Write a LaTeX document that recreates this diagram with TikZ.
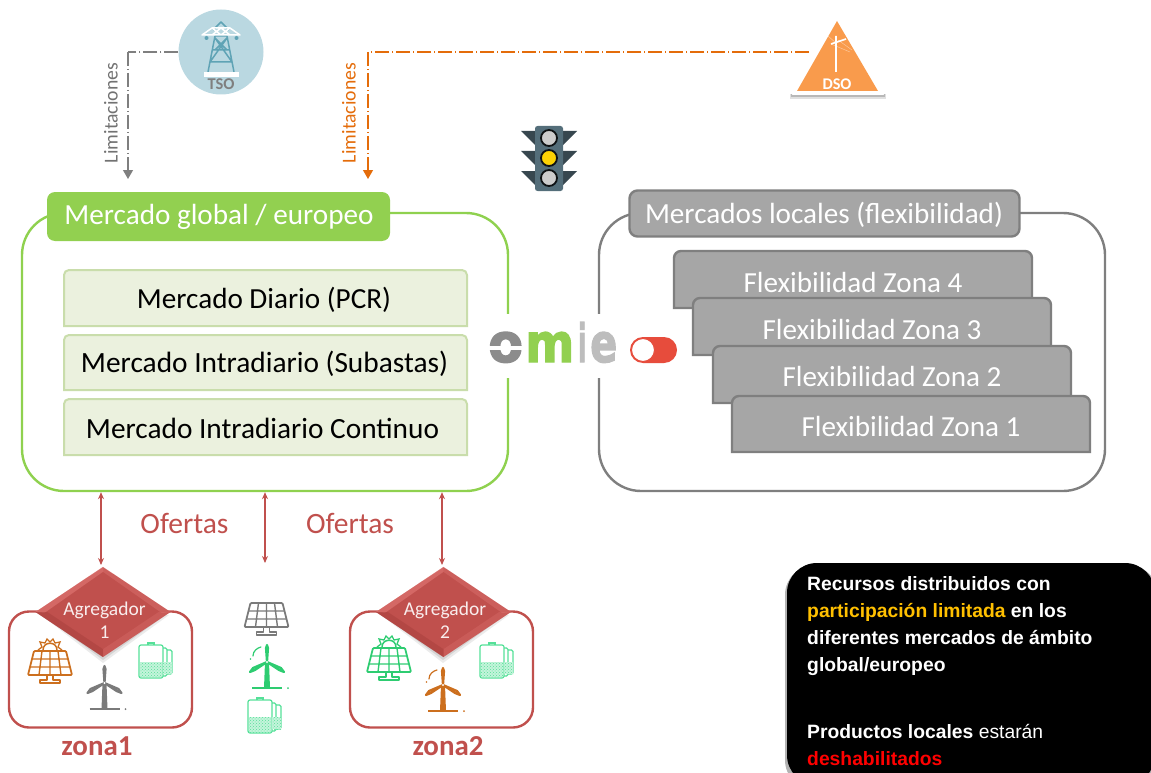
\documentclass[tikz,border=0pt]{standalone}
\usepackage{fontspec}
\usepackage{graphicx}
\setmainfont{Carlito}
\newfontfamily\arialf{Liberation Sans}
\newfontfamily\logof[FakeBold=2.5]{DejaVu Sans Bold}
\usetikzlibrary{shapes.geometric,arrows.meta,patterns}
\definecolor{gmk}{HTML}{92D050}
\definecolor{gln}{HTML}{8FD14F}
\definecolor{gin}{HTML}{EBF1DE}
\definecolor{gib}{HTML}{C9DDAB}
\definecolor{gry}{HTML}{A6A6A6}
\definecolor{gryd}{HTML}{7F7F7F}
\definecolor{redm}{HTML}{C0504D}
\definecolor{org}{HTML}{E46C0A}
\definecolor{icgr}{HTML}{2ECC71}
\definecolor{icbat}{HTML}{55E098}
\definecolor{icor}{HTML}{CC6F1E}
\definecolor{icgy}{HTML}{7A7A7A}
\definecolor{ambar}{HTML}{FFC000}
\newcommand{\fw}[2]{\resizebox{#1pt}{!}{#2}}
\tikzset{
 x=1pt,y=-1pt,
 bigbox/.style={draw,line width=2.4pt,rounded corners=42pt,fill=white,inner sep=0,minimum width=#1},
 headbox/.style={rounded corners=8pt,inner sep=0},
 inbox/.style={fill=gin,draw=gib,line width=2pt},
 flexbox/.style={fill=gry,draw=gryd,line width=2.4pt},
 lbl/.style={inner sep=0},
 flbl/.style={inner sep=0,text=white},
 lim/.style={line width=1.2pt,dash pattern=on 14pt off 3pt on 1pt off 3pt},
 ofr/.style={redm,line width=1.1pt,{Stealth[length=7pt,width=6pt]}-{Stealth[length=7pt,width=6pt]}},
 zone/.style={draw=redm,line width=2.4pt,rounded corners=20pt,minimum width=183pt,minimum height=116pt,inner sep=0},
 agg/.style={shape=diamond,fill=redm,minimum width=135pt,minimum height=90pt,inner sep=0,aspect=1.5},
 aggt/.style={inner sep=0,text=white!90!redm,align=center,font=\fontsize{19.5pt}{23pt}\selectfont},
 pics/solar/.style={code={
   \draw[line width=1.8pt,line join=round,rounded corners=1pt] (-16,-12) -- (16,-12) -- (22,12) -- (-22,12) -- cycle;
   \draw[line width=1.4pt] (-18,-4) -- (18,-4) (-20,4) -- (20,4)
     (-8,-12) -- (-11,12) (0,-12) -- (0,12) (8,-12) -- (11,12);
   \draw[line width=1.6pt,line join=round] (-3,12) -- (-3,17) -- (-10,17) -- (-10,20) -- (10,20) -- (10,17) -- (3,17) -- (3,12);
 }},
 pics/sun/.style={code={
   \draw[line width=1.5pt] (-7,-13) .. controls (-7,-22) and (7,-22) .. (7,-13);
   \draw[line width=1.3pt,line join=miter] (-12,-13) -- (-8,-16) -- (-10,-21) -- (-5,-20) -- (-3,-24) -- (0,-21) -- (3,-24) -- (5,-20) -- (10,-21) -- (8,-16) -- (12,-13);
 }},
 pics/turbine/.style={code={
   \fill (-2,0) -- (-3,26) -- (3,26) -- (2,0) -- cycle;
   \draw[line width=1.6pt] (-15,26) -- (15,26);
   \fill (21,26) circle (1pt);
   \draw[line width=2.2pt,line cap=round,line join=round] (0,0) -- (-1,-14) -- (0,-17) -- (1,-14) -- cycle;
   \draw[line width=2.2pt,line cap=round,line join=round] (0,0) -- (-12,8) -- (-17,10) -- (-14,6) -- cycle;
   \draw[line width=2.2pt,line cap=round,line join=round] (0,0) -- (12,8) -- (17,10) -- (14,6) -- cycle;
   \fill[white] (0,0) circle (1.2pt);
 }},
 pics/wind/.style={code={
   \draw[line width=1.2pt,line cap=round] (-14,-6) .. controls (-14,-11) and (-10,-14) .. (-6,-15);
   \fill (-16.5,-3) circle (.9pt);
 }},
 pics/battery/.style={code={
   \draw[line width=1.1pt,rounded corners=1.5pt] (24,3) -- (28,3) -- (28,31) -- (24,31);
   \draw[line width=1.1pt,rounded corners=1.5pt] (28,5) -- (33,5) -- (33,29) -- (28,29);
   \draw[line width=1.2pt,rounded corners=2pt] (0,0) rectangle (24,33);
   \draw[line width=1.1pt] (9,0) -- (9,-2) -- (15,-2) -- (15,0);
   \fill[icbat!35] (1,17) rectangle (23,32) (24,17) rectangle (33,29);
   \fill[pattern=crosshatch dots,pattern color=icbat] (1,17) rectangle (23,32);
   \fill[pattern=crosshatch dots,pattern color=icbat] (24,17) rectangle (33,29);
 }},
}
\begin{document}
\begin{tikzpicture}
\useasboundingbox (0,0) rectangle (1151,773);
\clip (0,0) rectangle (1151,773);

% big containers
\node[bigbox=486pt,draw=gln,minimum height=278pt] (glob) at (265,352) {};
\node[bigbox=506pt,draw=gryd,minimum height=278pt] (loc) at (852,352) {};

% TSO
\definecolor{tsoc}{HTML}{BAD8E1}
\definecolor{tsod}{HTML}{5FA3B5}
\node[circle,fill=tsoc,minimum size=85pt,inner sep=0] (tso) at (221,52) {};
\coordinate (tsoTurn) at (128,52);
\coordinate (tsoEnd) at (128,179);
\draw[gryd,lim] (tso.west) -- (tsoTurn);
\draw[gryd,lim,-{Triangle[length=9pt,width=10pt]}] (tsoTurn) -- (tsoEnd);
\draw[tsod,line width=1.5pt,line join=round]
  (208,72) -- (215,36) -- (227,36) -- (234,72)
  (215,38) -- (232,62) (227,38) -- (210,62) (215,38) -- (227,50) (227,38) -- (215,50)
  (213,50) -- (229,50) (210,62) -- (232,62)
  (213,30) -- (221,22) -- (229,30);
\draw[white,line width=1.5pt,line join=round]
  (202,35) -- (240,35) -- (230,28) -- (212,28) -- cycle
  (212,28) -- (221,35) -- (230,28) (221,28) -- (212,35) (221,28) -- (230,35);
\fill[tsod] (206.5,38) circle (2pt) (236.5,38) circle (2pt);
\fill[white] (204,72) rectangle (239,77);
\node[lbl,text=gryd,font=\bfseries] (tsot) at (221,84) {\fw{27}{TSO}};

% DSO
\definecolor{dsoc}{HTML}{F99B4C}
\fill[black,opacity=.12] (790,94) rectangle (886,99.5);
\fill[black,opacity=.18] (791,94) rectangle (885,97.5);
\fill[white,rounded corners=1.5pt] (837,13) -- (885,95) -- (791,95) -- cycle;
\fill[dsoc] (837,21) -- (878,91) -- (797,91) -- cycle;
\draw[white,line width=1.6pt] (836,36) -- (836,72) (831,44) -- (846,39);
\draw[white,opacity=.45,line width=.5pt] (831,44) -- (850,52) (838,40) -- (852,50) (828,36) -- (836,43);
\node[lbl,text=white,font=\bfseries] (dsot) at (837,84) {\fw{29}{DSO}};
\coordinate (dsoStart) at (809,52);
\coordinate (dsoTurn) at (368,52);
\coordinate (dsoEnd) at (368,179);
\draw[org,lim] (dsoStart) -- (dsoTurn);
\draw[org,lim,-{Triangle[length=9pt,width=10pt]}] (dsoTurn) -- (dsoEnd);

\node[lbl,rotate=90,text=gryd!90!black] (lim1) at (111,113) {\fw{100}{Limitaciones}};
\node[lbl,rotate=90,text=org] (lim2) at (349,113) {\fw{100}{Limitaciones}};

% traffic light
\definecolor{tld}{HTML}{37474F}
\definecolor{tlb}{HTML}{546E7A}
\fill[tld] (521,131) -- (536,131) -- (536,146) -- cycle (521,151) -- (536,151) -- (536,166) -- cycle (521,171) -- (536,171) -- (536,186) -- cycle;
\fill[tld] (577,131) -- (562,131) -- (562,146) -- cycle (577,151) -- (562,151) -- (562,166) -- cycle (577,171) -- (562,171) -- (562,186) -- cycle;
\fill[tlb,rounded corners=2.5pt] (535,126) rectangle (563,191);
\node[circle,draw=black!75!tld,line width=1.8pt,fill=black!20,minimum size=16pt,inner sep=0] (tl1) at (549,138) {};
\node[circle,draw=black!75!tld,line width=1.8pt,fill=yellow!70!orange,minimum size=16pt,inner sep=0] (tl2) at (549,158) {};
\node[circle,draw=black!75!tld,line width=1.8pt,fill=black!20,minimum size=16pt,inner sep=0] (tl3) at (549,178) {};

% headers
\node[headbox,fill=gmk,minimum width=343pt,minimum height=49pt] (gh) at (218.5,216.5) {};
\node[flbl] (ght) at (219,217) {\fw{309}{Mercado global / europeo}};
\node[headbox,fill=gry,draw=gryd,line width=2.4pt,minimum width=390pt,minimum height=46pt] (lh) at (824.5,213.5) {};
\node[flbl] (lht) at (824,214.5) {\fw{358}{Mercados locales (flexibilidad)}};

% inner market rows
\draw[inbox] (64,326) [rounded corners=5pt] -- (64,270) -- (467,270) [rounded corners=0pt] -- (467,326) -- cycle;
\draw[inbox] (64,390) [rounded corners=5pt] -- (64,335) -- (467,335) [rounded corners=0pt] -- (467,390) -- cycle;
\draw[inbox] (64,455) [rounded corners=5pt] -- (64,399) -- (467,399) [rounded corners=0pt] -- (467,455) -- cycle;
\node[lbl] (m1) at (264,300) {\fw{254}{Mercado Diario (PCR)}};
\node[lbl] (m2) at (264.5,363.5) {\fw{367}{Mercado Intradiario (Subastas)}};
\node[lbl] (m3) at (262.5,428) {\fw{353}{Mercado Intradiario Continuo}};

% flexibility stack
\draw[flexbox] (674,308) [rounded corners=7pt] -- (674,251) -- (1032,251) [rounded corners=0pt] -- (1032,308) -- cycle;
\node[flbl] (f4) at (853,282) {\fw{219}{Flexibilidad Zona 4}};
\draw[flexbox] (693,355) [rounded corners=7pt] -- (693,298) -- (1051,298) [rounded corners=0pt] -- (1051,355) -- cycle;
\node[flbl] (f3) at (872,329) {\fw{219}{Flexibilidad Zona 3}};
\draw[flexbox] (713,403) [rounded corners=7pt] -- (713,346) -- (1071,346) [rounded corners=0pt] -- (1071,403) -- cycle;
\node[flbl] (f2) at (892,376) {\fw{219}{Flexibilidad Zona 2}};
\draw[flexbox] (732,452) [rounded corners=7pt] -- (732,396) -- (1090,396) [rounded corners=0pt] -- (1090,452) -- cycle;
\node[flbl] (f1) at (911,426) {\fw{219}{Flexibilidad Zona 1}};

% omie logo
\fill[white] (488,314) rectangle (625,378);
\definecolor{omg}{HTML}{8C8C8C}
\definecolor{oml}{HTML}{BDBDBD}
\node[lbl,font=\logof,anchor=base west] (omie) at (488,362) {\resizebox{35pt}{30pt}{\textcolor{omg}{o}}\hspace{2pt}\resizebox{49pt}{30pt}{\textcolor{gmk}{m}}\hspace{4pt}\resizebox{8pt}{40pt}{\textcolor{oml}{i}}\hspace{4pt}\resizebox{27pt}{30pt}{\textcolor{oml}{e}}};
\fill[white] (486,345.5) rectangle (525,349.5);

% toggle
\definecolor{tog}{HTML}{E74C3C}
\node[fill=tog,rounded corners=13pt,minimum width=47pt,minimum height=26pt,inner sep=0] (tg) at (653.5,350) {};
\node[circle,fill=white,draw=tog,line width=1pt,minimum size=23pt,inner sep=0] (tgk) at (643,350) {};

% zones
\node[zone] (z1) at (100.5,669.5) {};
\node[zone] (z2) at (441.5,669.5) {};

% icons
\pic[color=icor] at (50,663) {solar};
\pic[color=icor] at (50,663) {sun};
\pic[color=icgy] at (104.5,683) {turbine};
\pic[color=icbat] at (139,645) {battery};

\pic[color=icgy] at (266.5,615) {solar};
\pic[color=icgr] at (267,662) {turbine};
\pic[color=icgr] at (267,662) {wind};
\pic[color=icbat] at (248,700) {battery};

\pic[color=icgr] at (389,660) {solar};
\pic[color=icgr] at (389,660) {sun};
\pic[color=icor] at (443,685) {turbine};
\pic[color=icor] at (443,685) {wind};
\pic[color=icbat] at (480,645) {battery};

% aggregators
\definecolor{aggl}{HTML}{E57C79}
\definecolor{aggd}{HTML}{A9403D}
\foreach \cx in {103,443}{
  \fill[black,opacity=.08] (\cx-62,615) -- (\cx+66,615) -- (\cx,663) -- cycle;
  \fill[black,opacity=.10] (\cx-64,612) -- (\cx+67,612) -- (\cx,660) -- cycle;
}
\node[agg] (a1) at (103,612) {};
\node[agg] (a2) at (443.5,612) {};
\foreach \n in {a1,a2}{
  \fill[aggl,opacity=.55] (\n.north) -- (\n.west) -- ([xshift=9pt,yshift=-1pt]\n.west) -- ([yshift=-5pt]\n.north) -- cycle;
  \fill[aggl,opacity=.35] (\n.north) -- (\n.east) -- ([xshift=-9pt,yshift=-1pt]\n.east) -- ([yshift=-5pt]\n.north) -- cycle;
  \fill[aggd,opacity=.55] (\n.west) -- (\n.south) -- ([yshift=8pt]\n.south) -- ([xshift=12pt]\n.west) -- cycle;
  \fill[aggl,opacity=.25] (\n.east) -- (\n.south) -- ([yshift=8pt]\n.south) -- ([xshift=-12pt]\n.east) -- cycle;
}
\node[aggt] (a1t) at (104.5,620) {Agregador\\1};
\node[aggt] (a2t) at (445,620) {Agregador\\2};

\node[lbl,text=redm,font=\bfseries] (zl1) at (97,746) {\fw{71}{zona1}};
\node[lbl,text=redm,font=\bfseries] (zl2) at (448,746) {\fw{71}{zona2}};

% offers
\coordinate (ar1) at (101,565);
\coordinate (ar2) at (265,563);
\coordinate (ar3) at (442,565);
\draw[ofr] (glob.south -| ar1) -- (ar1);
\draw[ofr] (glob.south -| ar2) -- (ar2);
\draw[ofr] (glob.south -| ar3) -- (ar3);
\node[lbl,text=redm] (of1) at (184.5,523.5) {\fw{88}{Ofertas}};
\node[lbl,text=redm] (of2) at (350,523.5) {\fw{88}{Ofertas}};

% note
\fill[black!30,rounded corners=30pt] (785,565) rectangle (1158,790);
\node[fill=black,rounded corners=30pt,minimum width=368pt,minimum height=222pt,inner sep=0] (note) at (971,674) {};
\node[anchor=north west,inner sep=0,text=white,align=left,font=\arialf\bfseries\fontsize{19.3pt}{27pt}\selectfont] (notet) at (807,576)
 {Recursos distribuidos con\\
  \textcolor{ambar}{participación limitada} en los\\
  diferentes mercados de ámbito\\
  global/europeo\\[40pt]
  Productos locales {\mdseries estarán}\\
  \textcolor{red}{deshabilitados}};
\end{tikzpicture}
\end{document}
